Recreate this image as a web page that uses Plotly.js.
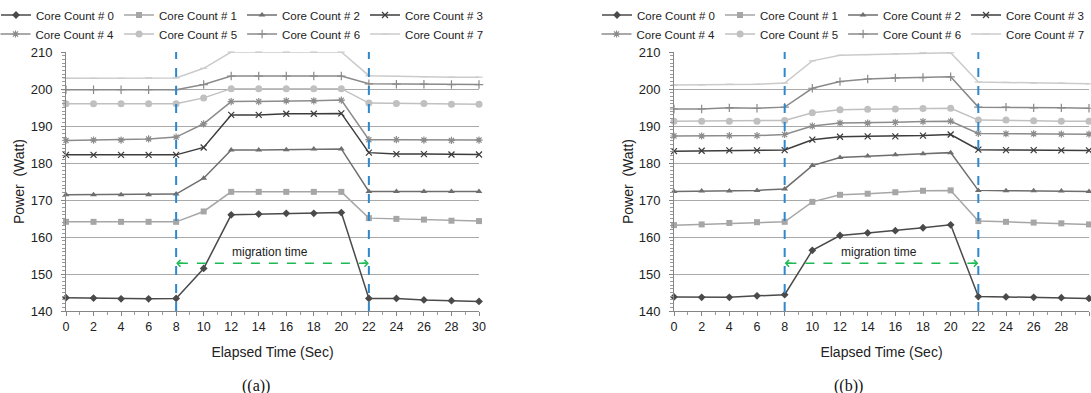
<!DOCTYPE html>
<html>
<head>
<meta charset="utf-8">
<script src="https://cdn.plot.ly/plotly-3.0.1.min.js"></script>
<style>html,body{margin:0;padding:0;background:#fff;}#chart{width:1091px;height:393px;}</style>
</head>
<body>
<div id="chart"></div>
<script>
// Elapsed time (sec)
const time = [0, 2, 4, 6, 8, 10, 12, 14, 16, 18, 20, 22, 24, 26, 28, 30];
const seriesNames = ['Core Count # 0', 'Core Count # 1', 'Core Count # 2', 'Core Count # 3',
                     'Core Count # 4', 'Core Count # 5', 'Core Count # 6', 'Core Count # 7'];

// Chart (a) power (Watt)
const a0 = [143.6, 143.5, 143.3, 143.3, 143.4, 151.5, 166.0, 166.2, 166.4, 166.4, 166.6, 143.4, 143.4, 143.0, 142.8, 142.6];
const a1 = [164.1, 164.1, 164.1, 164.1, 164.1, 166.9, 172.2, 172.2, 172.2, 172.2, 172.2, 165.1, 164.9, 164.7, 164.4, 164.3];
const a2 = [171.4, 171.4, 171.4, 171.4, 171.6, 175.9, 183.5, 183.5, 183.6, 183.8, 183.8, 172.3, 172.3, 172.3, 172.3, 172.3];
const a3 = [182.2, 182.2, 182.2, 182.2, 182.2, 184.2, 193.0, 193.0, 193.3, 193.3, 193.4, 182.8, 182.4, 182.4, 182.3, 182.3];
const a4 = [186.1, 186.2, 186.2, 186.5, 187.0, 190.6, 196.6, 196.6, 196.8, 196.8, 197.0, 186.3, 186.3, 186.2, 186.1, 186.2];
const a5 = [196.0, 196.0, 196.0, 196.0, 196.0, 197.6, 200.1, 200.1, 200.1, 200.1, 200.1, 196.2, 196.1, 196.1, 195.9, 195.9];
const a6 = [199.8, 199.8, 199.8, 199.8, 199.8, 201.2, 203.5, 203.5, 203.5, 203.5, 203.5, 201.4, 201.3, 201.3, 201.2, 201.2];
const a7 = [202.9, 202.9, 202.9, 203.0, 203.0, 205.6, 210.0, 210.0, 210.0, 210.0, 210.0, 203.6, 203.4, 203.3, 203.2, 203.2];

// Chart (b) power (Watt)
const b0 = [143.8, 143.7, 143.7, 144.1, 144.4, 156.4, 160.4, 161.1, 161.7, 162.5, 163.3, 143.9, 143.8, 143.7, 143.6, 143.4];
const b1 = [163.2, 163.4, 163.8, 164.0, 164.1, 169.5, 171.4, 171.7, 172.1, 172.5, 172.6, 164.3, 164.1, 163.9, 163.7, 163.4];
const b2 = [172.3, 172.4, 172.4, 172.6, 173.0, 179.3, 181.5, 181.9, 182.2, 182.5, 182.8, 172.6, 172.5, 172.5, 172.4, 172.3];
const b3 = [183.2, 183.3, 183.4, 183.4, 183.5, 186.3, 187.1, 187.2, 187.2, 187.4, 187.7, 183.6, 183.5, 183.5, 183.4, 183.4];
const b4 = [187.3, 187.3, 187.4, 187.4, 187.7, 190.0, 190.8, 190.8, 191.0, 191.2, 191.3, 188.0, 187.9, 187.9, 187.8, 187.8];
const b5 = [191.3, 191.3, 191.3, 191.3, 191.5, 193.6, 194.4, 194.5, 194.6, 194.7, 194.8, 191.6, 191.6, 191.4, 191.3, 191.3];
const b6 = [194.6, 194.6, 194.9, 194.8, 195.1, 200.2, 202.0, 202.7, 203.0, 203.1, 203.3, 195.1, 195.1, 194.9, 194.9, 194.8];
const b7 = [201.1, 201.1, 201.3, 201.3, 201.6, 207.6, 209.1, 209.3, 209.5, 209.8, 209.8, 201.9, 201.8, 201.6, 201.6, 201.4];

// Migration window markers and annotation level
const migrationStart = 8;
const migrationEnd = 22;
const arrowLevel = 152.9;
const arrowLabel = 'migration time';
const arrowLabelX = 14.8;
const captions = ['((a))', '((b))'];

const lineColors = ['#4a4a4a', '#a6a6a6', '#6e6e6e', '#3c3c3c', '#8c8c8c', '#c0c0c0', '#8a8a8a', '#cbcbcb'];
const markerSymbols = ['diamond', 'square', 'triangle-up', 'x-thin-open', 'asterisk-open', 'circle', 'cross-thin-open', 'line-ew-open'];
const markerSizes = [6, 6, 6, 6, 6, 7, 6, 5];

const FONT = 'Liberation Sans, Arial, sans-serif';
const W = 1091, H = 393;

const dataA = [a0, a1, a2, a3, a4, a5, a6, a7];
const dataB = [b0, b1, b2, b3, b4, b5, b6, b7];

const traces = [];
function addSet(arrs, xa, ya, legRow1, legRow2) {
  arrs.forEach((ys, k) => {
    const open = markerSymbols[k].indexOf('open') >= 0;
    traces.push({
      type: 'scatter', mode: 'lines+markers',
      x: time, y: ys, xaxis: xa, yaxis: ya,
      name: seriesNames[k],
      legend: k < 4 ? legRow1 : legRow2,
      cliponaxis: false,
      line: {color: lineColors[k], width: 1.5},
      marker: {symbol: markerSymbols[k], size: markerSizes[k], color: lineColors[k],
               line: {color: lineColors[k], width: open ? 1.2 : 0}},
      hoverinfo: 'x+y+name'
    });
  });
}
addSet(dataA, 'x', 'y', 'legend', 'legend2');
addSet(dataB, 'x2', 'y2', 'legend3', 'legend4');

const yBottom = 1 - 311 / H, yTop = 1 - 52 / H;

function xAxis(domain) {
  return {
    domain: domain, range: [0, 30], tick0: 0, dtick: 2,
    ticks: 'outside', ticklen: 4, tickcolor: '#868686', tickwidth: 1,
    minor: {dtick: 1, ticks: 'outside', ticklen: 3, tickcolor: '#9a9a9a', showgrid: false},
    showline: true, linecolor: '#868686', linewidth: 1,
    showgrid: false, zeroline: false,
    tickfont: {family: FONT, size: 12.5, color: '#222'},
    title: {text: 'Elapsed Time (Sec)', font: {family: FONT, size: 14, color: '#222'}, standoff: 14},
    automargin: false, fixedrange: true
  };
}
function yAxis(anchor, standoff) {
  return {
    domain: [yBottom, yTop], range: [140, 210], dtick: 10, anchor: anchor,
    ticks: 'outside', ticklen: 4, tickcolor: '#868686', ticklabelstandoff: 6,
    minor: {dtick: 1, ticks: 'outside', ticklen: 3, tickcolor: '#9a9a9a', showgrid: false},
    showline: true, linecolor: '#868686', linewidth: 1,
    showgrid: true, gridcolor: '#a9a9a9', gridwidth: 1, zeroline: false,
    tickfont: {family: FONT, size: 13, color: '#222'},
    title: {text: 'Power  (Watt)', font: {family: FONT, size: 14, color: '#222'}, standoff: standoff},
    automargin: false, fixedrange: true
  };
}

function vline(xref, xv) {
  return {type: 'line', xref: xref, yref: 'paper', x0: xv, x1: xv, y0: yBottom, y1: yTop,
          line: {color: '#2f88cc', width: 2, dash: 'dash'}};
}
function hline(xref, yref) {
  return {type: 'line', xref: xref, yref: yref, x0: migrationStart + 0.2, x1: migrationEnd - 0.2,
          y0: arrowLevel, y1: arrowLevel, line: {color: '#1db954', width: 1.5, dash: 'dash'}};
}
function arrowHead(xref, yref, xv, fromX) {
  return {xref: xref, yref: yref, axref: xref, ayref: yref, x: xv, y: arrowLevel, ax: fromX, ay: arrowLevel,
          text: '', showarrow: true, arrowhead: 4, arrowsize: 1, arrowwidth: 1.3, arrowcolor: '#1db954', standoff: 0};
}

function legendAt(xc, yc) {
  return {orientation: 'h', x: xc / W, y: 1 - yc / H, xanchor: 'center', yanchor: 'middle',
          bgcolor: 'rgba(0,0,0,0)', borderwidth: 0, itemwidth: 30, traceorder: 'normal',
          font: {family: FONT, size: 11.5, color: '#222'}, itemclick: false, itemdoubleclick: false};
}

const layout = {
  width: W, height: H,
  margin: {l: 0, r: 0, t: 0, b: 0, autoexpand: false},
  paper_bgcolor: '#fff', plot_bgcolor: '#fff',
  showlegend: true,
  xaxis: Object.assign(xAxis([66 / W, 479 / W]), {anchor: 'y'}),
  yaxis: yAxis('x', 2),
  xaxis2: Object.assign(xAxis([674 / W, 1089 / W]), {anchor: 'y2'}),
  yaxis2: yAxis('x2', 1),
  legend: legendAt(242, 15),
  legend2: legendAt(242, 34),
  legend3: legendAt(843, 15),
  legend4: legendAt(843, 34),
  shapes: [
    vline('x', migrationStart), vline('x', migrationEnd),
    vline('x2', migrationStart), vline('x2', migrationEnd),
    hline('x', 'y'), hline('x2', 'y2')
  ],
  annotations: [
    arrowHead('x', 'y', migrationStart, migrationStart + 0.6),
    arrowHead('x', 'y', migrationEnd, migrationEnd - 0.6),
    arrowHead('x2', 'y2', migrationStart, migrationStart + 0.6),
    arrowHead('x2', 'y2', migrationEnd, migrationEnd - 0.6),
    {xref: 'x', yref: 'y', x: arrowLabelX, y: arrowLevel, text: arrowLabel, showarrow: false,
     yanchor: 'bottom', yshift: 2, font: {family: FONT, size: 12, color: '#222'}},
    {xref: 'x2', yref: 'y2', x: arrowLabelX, y: arrowLevel, text: arrowLabel, showarrow: false,
     yanchor: 'bottom', yshift: 2, font: {family: FONT, size: 12, color: '#222'}},
    {xref: 'paper', yref: 'paper', x: 256 / W, y: 1 - 386 / H, text: captions[0], showarrow: false,
     xanchor: 'center', yanchor: 'middle', font: {family: 'Liberation Serif, Times New Roman, serif', size: 16, color: '#111'}},
    {xref: 'paper', yref: 'paper', x: 848 / W, y: 1 - 386 / H, text: captions[1], showarrow: false,
     xanchor: 'center', yanchor: 'middle', font: {family: 'Liberation Serif, Times New Roman, serif', size: 16, color: '#111'}}
  ]
};

Plotly.newPlot('chart', traces, layout, {displayModeBar: false, staticPlot: true});
</script>
</body>
</html>
